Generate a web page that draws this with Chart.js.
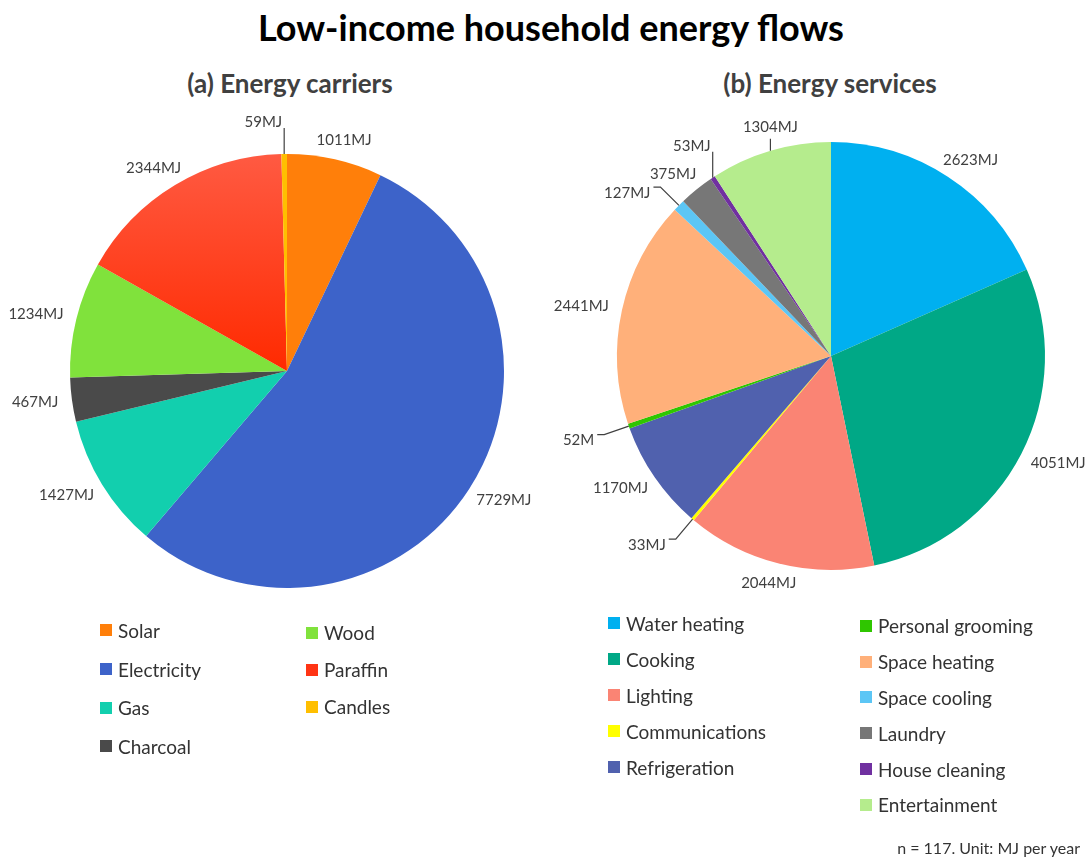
<!DOCTYPE html>
<html>
<head>
<meta charset="utf-8">
<script src="https://cdn.jsdelivr.net/npm/chart.js@4.4.0/dist/chart.umd.min.js"></script>
<style>
  html, body { margin: 0; padding: 0; background: #fff; }
  #page { position: relative; width: 1088px; height: 857px; overflow: hidden; font-family: Lato, "Open Sans", sans-serif; }
  .title { position: absolute; left: 0; width: 1102px; top: 5px; text-align: center; font-weight: 700; font-size: 36px; color: #000; }
  .sub { position: absolute; top: 67px; font-weight: 700; font-size: 26px; color: #404040; text-align: center; width: 400px; }
  canvas.pie { position: absolute; top: 0; }
  .legcol { position: absolute; }
  .legitem { display: flex; align-items: center; font-size: 19px; color: #333; white-space: nowrap; }
  .legitem span.sw { width: 12px; height: 12px; margin-right: 6px; display: inline-block; }
  .foot { position: absolute; right: 8px; top: 838px; font-size: 16px; color: #333; }
</style>
</head>
<body>
<div id="page">
  <div class="title">Low-income household energy flows</div>
  <div class="sub" style="left:90px">(a) Energy carriers</div>
  <div class="sub" style="left:630px">(b) Energy services</div>
  <canvas id="carriers" class="pie" style="left:0px"></canvas>
  <canvas id="services" class="pie" style="left:544px"></canvas>
  <div class="foot">n = 117. Unit: MJ per year</div>
</div>
<script>
// (a) energy carriers, clockwise from 12 o'clock
const carrierLabels = ['Solar', 'Electricity', 'Gas', 'Charcoal', 'Wood', 'Paraffin', 'Candles'];
const carrierValues = [1011, 7729, 1427, 467, 1234, 2344, 59];
const carrierColors = ['#ff7f0a', '#3d63c9', '#12cfae', '#4a4a4a', '#80e23c', '#ff3414', '#ffbf00'];

// (b) energy services, clockwise from 12 o'clock
const serviceLabels = ['Water heating', 'Cooking', 'Lighting', 'Communications', 'Refrigeration',
  'Personal grooming', 'Space heating', 'Space cooling', 'Laundry', 'House cleaning', 'Entertainment'];
const serviceValues = [2623, 4051, 2044, 33, 1170, 52, 2441, 127, 375, 53, 1304];
const serviceColors = ['#00b0f0', '#00a886', '#fa8474', '#ffff00', '#5061ae', '#2fc600',
  '#ffb07a', '#5cc6f5', '#777777', '#7030a0', '#b5ec8d'];

// value labels as printed (the 52 one is cut short in the original)
const carrierText = carrierValues.map(v => v + 'MJ');
const serviceText = serviceValues.map(v => v + 'MJ');
serviceText[5] = '52M';

const W = 544, H = 857;

// labels outside the pie; thin slices get a leader line
const sliceLabels = {
  id: 'sliceLabels',
  afterDatasetsDraw(chart, args, opts) {
    const ctx = chart.ctx;
    const meta = chart.getDatasetMeta(0);
    const values = chart.data.datasets[0].data;
    const total = values.reduce((a, b) => a + b, 0);
    const ticked = opts.tick || [];
    ctx.save();
    ctx.font = '15px Lato';
    ctx.fillStyle = '#404040';
    ctx.strokeStyle = '#404040';
    ctx.lineWidth = 1.2;
    ctx.textBaseline = 'middle';
    meta.data.forEach((arc, i) => {
      const p = arc.getProps(['x', 'y', 'startAngle', 'endAngle', 'outerRadius'], true);
      const mid = (p.startAngle + p.endAngle) / 2;
      const c = Math.cos(mid), s = Math.sin(mid);
      const r = p.outerRadius;
      const txt = opts.text[i];
      const tw = ctx.measureText(txt).width;
      const ax = p.x + r * c, ay = p.y + r * s;
      if (values[i] / total < 0.015) {
        ctx.beginPath();
        ctx.moveTo(ax, ay);
        if (s < -0.8) {
          // near the top: straight up, text above-left
          const ey = ay - 26;
          ctx.lineTo(ax, ey);
          ctx.stroke();
          ctx.textAlign = 'right';
          ctx.fillText(txt, ax - 2, ey - 6);
        } else {
          const ex = p.x + (r + 26) * c, ey = p.y + (r + 26) * s;
          const dir = c < 0 ? -1 : 1;
          ctx.lineTo(ex, ey);
          ctx.lineTo(ex + dir * 7, ey);
          ctx.stroke();
          ctx.textAlign = dir < 0 ? 'right' : 'left';
          ctx.fillText(txt, ex + dir * 10, ey + 6);
        }
      } else if (ticked.includes(i)) {
        // short vertical tick, label centred above it
        ctx.beginPath();
        ctx.moveTo(ax, ay);
        ctx.lineTo(ax, ay - 12);
        ctx.stroke();
        ctx.textAlign = 'center';
        ctx.fillText(txt, ax, ay - 24);
      } else {
        const tx = p.x + (r + 12) * c + (tw / 2 + 2) * c;
        const ty = p.y + (r + 12) * s + 8 * s;
        ctx.textAlign = 'center';
        ctx.fillText(txt, tx, ty);
      }
    });
    ctx.restore();
  }
};

function makePie(id, labels, values, colors, text, pad, tick) {
  const el = document.getElementById(id);
  el.width = W; el.height = H;
  el.style.width = W + 'px'; el.style.height = H + 'px';
  return new Chart(el, {
    type: 'pie',
    data: {
      labels: labels,
      datasets: [{
        data: values,
        backgroundColor: (ctx) => {
          const col = colors[ctx.dataIndex];
          // paraffin slice has a light-to-dark sheen in the original
          if (labels[ctx.dataIndex] === 'Paraffin' && ctx.chart.chartArea) {
            const a = ctx.chart.chartArea;
            const g = ctx.chart.ctx.createLinearGradient(0, a.top, 0, (a.top + a.bottom) / 2);
            g.addColorStop(0, '#ff5a42');
            g.addColorStop(1, '#ff2a00');
            return g;
          }
          return col;
        },
        borderWidth: 0,
      }]
    },
    options: {
      responsive: false,
      animation: false,
      layout: { padding: pad },
      plugins: {
        legend: { display: false },
        tooltip: { enabled: false },
        sliceLabels: { text: text, tick: tick },
      }
    },
    plugins: [sliceLabels]
  });
}

makePie('carriers', carrierLabels, carrierValues, carrierColors, carrierText,
  { left: 70, right: 40, top: 154, bottom: 269 }, []);
makePie('services', serviceLabels, serviceValues, serviceColors, serviceText,
  { left: 73, right: 43, top: 142, bottom: 287 }, [serviceLabels.indexOf('Entertainment')]);

// legends, filled column by column
function makeLegend(labels, colors, split, cols) {
  const page = document.getElementById('page');
  [labels.slice(0, split), labels.slice(split)].forEach((part, k) => {
    const col = document.createElement('div');
    col.className = 'legcol';
    col.style.left = cols[k].left + 'px';
    col.style.top = cols[k].top + 'px';
    part.forEach((name, j) => {
      const idx = k === 0 ? j : split + j;
      const it = document.createElement('div');
      it.className = 'legitem';
      it.style.height = cols[k].step + 'px';
      it.innerHTML = '<span class="sw" style="background:' + colors[idx] + '"></span>' + name;
      col.appendChild(it);
    });
    page.appendChild(col);
  });
}

makeLegend(carrierLabels, carrierColors, 4,
  [{ left: 100, top: 611, step: 38.7 }, { left: 306, top: 614, step: 37 }]);
makeLegend(serviceLabels, serviceColors, 5,
  [{ left: 608, top: 605, step: 36 }, { left: 860, top: 608, step: 35.8 }]);
</script>
</body>
</html>
